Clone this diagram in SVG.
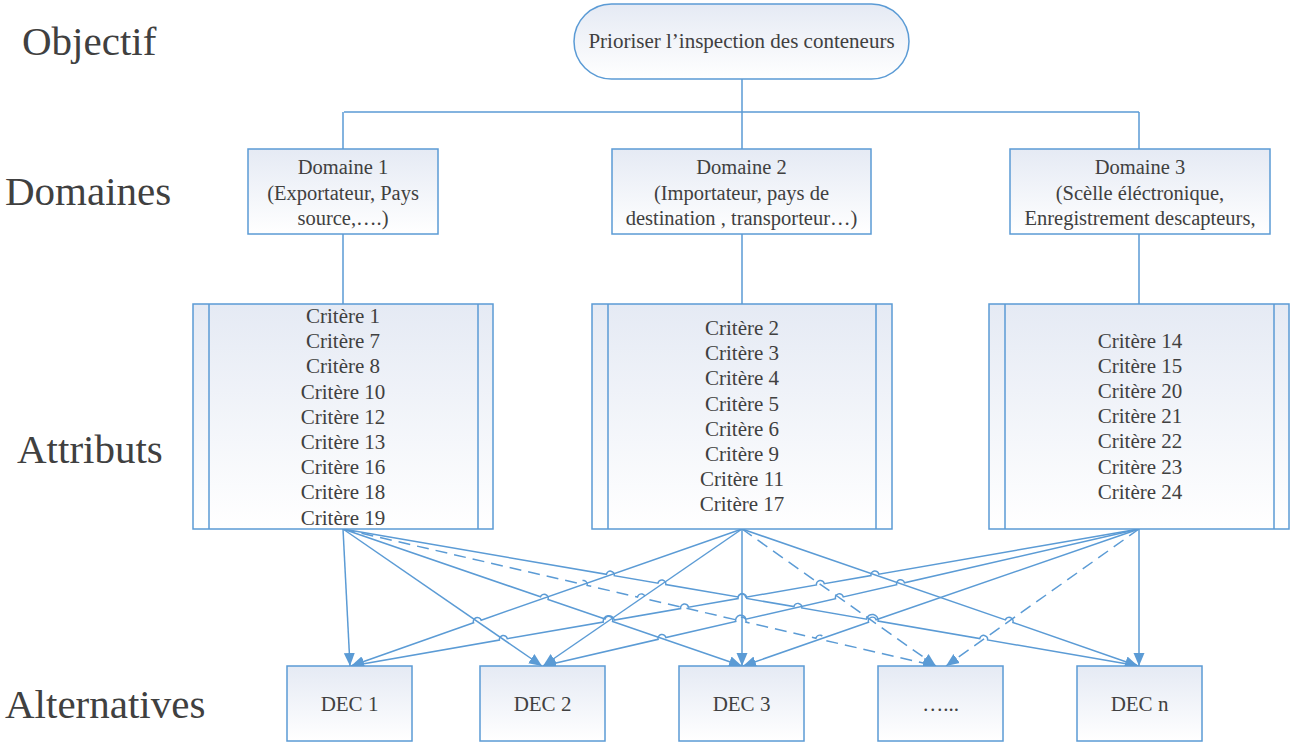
<svg xmlns="http://www.w3.org/2000/svg" width="1290" height="742" viewBox="0 0 1290 742">
<defs>
<linearGradient id="g" x1="0" y1="0" x2="0" y2="1">
<stop offset="0" stop-color="#e5eaf4"/>
<stop offset="1" stop-color="#ffffff"/>
</linearGradient>
<marker id="arr" markerUnits="userSpaceOnUse" markerWidth="14" markerHeight="12" viewBox="0 0 14 12" refX="13" refY="6" orient="auto">
<path d="M0,0.5 L13,6 L0,11.5 z" fill="#5b9bd5" stroke="none"/>
</marker>
<style>
.box{fill:url(#g);stroke:#5b9bd5;stroke-width:1.5}
.ln{fill:none;stroke:#5b9bd5;stroke-width:1.5}
.c{fill:none;stroke:#5b9bd5;stroke-width:1.5;marker-end:url(#arr)}
.d{stroke-dasharray:12 7}
.t{font-family:"Liberation Serif","Times New Roman",serif;font-size:21px;fill:#404040;text-anchor:middle}
.lab{font-family:"Liberation Serif","Times New Roman",serif;font-size:41px;fill:#404040}
</style>
</defs>
<rect width="1290" height="742" fill="#ffffff"/>

<g id="labels">
<text class="lab" x="22" y="55">Objectif</text>
<text class="lab" x="5" y="205">Domaines</text>
<text class="lab" x="17" y="463">Attributs</text>
<text class="lab" x="5" y="718">Alternatives</text>
</g>

<g id="connectors">
<path class="ln" d="M742,79 L742,112 M344,112 L1139,112 M343,112 L343,149 M742,112 L742,149 M1139,112 L1139,149"/>
<path class="ln" d="M343,234 L343,304 M742,234 L742,304 M1139,234 L1139,304"/>
<path class="c" d="M343,529 L350,666"/>
<path class="c" d="M343,529 L542,666"/>
<path class="c" d="M343,529 L540.48,596.81 A4,4 0 0 1 548.04,599.41 L605.00,618.96 A4,4 0 0 1 612.56,621.56 L742,666"/>
<path class="c d" d="M343,529 L579.31,583.60 A4,4 0 0 1 587.11,585.40 L637.47,597.03 A4,4 0 0 1 645.27,598.83 L738.10,620.28 A4,4 0 0 1 745.90,622.08 L815.90,638.25 A4,4 0 0 1 823.70,640.05 L936,666"/>
<path class="c" d="M343,529 L606.40,574.33 A4,4 0 0 1 614.28,575.69 L657.94,583.20 A4,4 0 0 1 665.82,584.56 L738.06,596.99 A4.39,4.39 0 0 1 746.70,598.48 L793.92,606.61 A4,4 0 0 1 801.80,607.97 L866.64,619.12 A5.79,5.79 0 0 1 878.05,621.09 L979.72,638.58 A4,4 0 0 1 987.60,639.94 L1139,666"/>
<path class="c" d="M742,529 L481.13,620.17 A4,4 0 0 0 473.57,622.81 L351,666"/>
<path class="c" d="M742,529 L543,666"/>
<path class="c" d="M742,529 L742,666"/>
<path class="c d" d="M742,529 L936,666"/>
<path class="c" d="M742,529 L1005.35,619.88 A4,4 0 0 1 1012.91,622.48 L1138,666"/>
<path class="c" d="M1139,529 L878.83,574.18 A4,4 0 0 0 870.95,575.54 L824.29,583.65 A4,4 0 0 0 816.41,585.01 L745.94,597.25 A4,4 0 0 0 738.06,598.61 L688.49,607.23 A4,4 0 0 0 680.61,608.59 L614.29,620.11 A5.6,5.6 0 0 0 603.26,622.02 L507.27,638.70 A4,4 0 0 0 499.39,640.06 L351,666"/>
<path class="c" d="M1139,529 L904.46,582.83 A4,4 0 0 0 896.66,584.61 L843.27,596.87 A4,4 0 0 0 835.47,598.65 L745.90,619.21 A5.2,5.2 0 0 0 735.76,621.53 L665.90,637.57 A4,4 0 0 0 658.10,639.35 L543,666"/>
<path class="c" d="M1139,529 L876.10,619.73 A4,4 0 0 0 868.54,622.33 L743,666"/>
<path class="c d" d="M1139,529 L946,666"/>
<path class="c" d="M1139,529 L1139,666"/>
</g>

<g id="objectif">
<rect class="box" x="574" y="4" width="335" height="75" rx="37.5" ry="37.5"/>
<text class="t" x="741.5" y="48">Prioriser l’inspection des conteneurs</text>
</g>

<g id="domaine1">
<rect class="box" x="248" y="149" width="190" height="85"/>
<text class="t" x="343" y="174" style="font-size:20.5px">Domaine 1</text>
<text class="t" x="343" y="200" style="font-size:20.5px">(Exportateur, Pays</text>
<text class="t" x="343" y="225" style="font-size:20.5px">source,….)</text>
</g>
<g id="domaine2">
<rect class="box" x="612" y="149" width="259" height="85"/>
<text class="t" x="741.5" y="174" style="font-size:20.5px">Domaine 2</text>
<text class="t" x="741.5" y="200" style="font-size:20.5px">(Importateur, pays de</text>
<text class="t" x="741.5" y="225" style="font-size:20.5px">destination , transporteur…)</text>
</g>
<g id="domaine3">
<rect class="box" x="1010" y="149" width="260" height="85"/>
<text class="t" x="1140" y="174" style="font-size:20.5px">Domaine 3</text>
<text class="t" x="1140" y="200" style="font-size:20.5px">(Scèlle éléctronique,</text>
<text class="t" x="1140" y="225" style="font-size:20.5px">Enregistrement descapteurs,</text>
</g>

<g id="attributs1">
<rect class="box" x="193" y="304" width="300" height="225"/>
<path class="ln" d="M209,304 L209,529 M478,304 L478,529"/>
<text class="t" x="343" y="323">Critère 1</text>
<text class="t" x="343" y="348.2">Critère 7</text>
<text class="t" x="343" y="373.4">Critère 8</text>
<text class="t" x="343" y="398.6">Critère 10</text>
<text class="t" x="343" y="423.8">Critère 12</text>
<text class="t" x="343" y="449">Critère 13</text>
<text class="t" x="343" y="474.2">Critère 16</text>
<text class="t" x="343" y="499.4">Critère 18</text>
<text class="t" x="343" y="524.6">Critère 19</text>
</g>
<g id="attributs2">
<rect class="box" x="592" y="304" width="300" height="225"/>
<path class="ln" d="M608,304 L608,529 M876,304 L876,529"/>
<text class="t" x="742" y="335">Critère 2</text>
<text class="t" x="742" y="360.2">Critère 3</text>
<text class="t" x="742" y="385.4">Critère 4</text>
<text class="t" x="742" y="410.6">Critère 5</text>
<text class="t" x="742" y="435.8">Critère 6</text>
<text class="t" x="742" y="461">Critère 9</text>
<text class="t" x="742" y="486.2">Critère 11</text>
<text class="t" x="742" y="511.4">Critère 17</text>
</g>
<g id="attributs3">
<rect class="box" x="989" y="304" width="300" height="225"/>
<path class="ln" d="M1005,304 L1005,529 M1274,304 L1274,529"/>
<text class="t" x="1140" y="347.5">Critère 14</text>
<text class="t" x="1140" y="372.7">Critère 15</text>
<text class="t" x="1140" y="397.9">Critère 20</text>
<text class="t" x="1140" y="423.1">Critère 21</text>
<text class="t" x="1140" y="448.3">Critère 22</text>
<text class="t" x="1140" y="473.5">Critère 23</text>
<text class="t" x="1140" y="498.7">Critère 24</text>
</g>

<g id="dec1">
<rect class="box" x="287" y="666" width="125" height="75"/>
<text class="t" x="349.5" y="711">DEC 1</text>
</g>
<g id="dec2">
<rect class="box" x="480" y="666" width="125" height="75"/>
<text class="t" x="542.5" y="711">DEC 2</text>
</g>
<g id="dec3">
<rect class="box" x="679" y="666" width="125" height="75"/>
<text class="t" x="741.5" y="711">DEC 3</text>
</g>
<g id="dec4">
<rect class="box" x="878" y="666" width="125" height="75"/>
<text class="t" x="940.5" y="711">…...</text>
</g>
<g id="decn">
<rect class="box" x="1077" y="666" width="125" height="75"/>
<text class="t" x="1139.5" y="711">DEC n</text>
</g>
</svg>
